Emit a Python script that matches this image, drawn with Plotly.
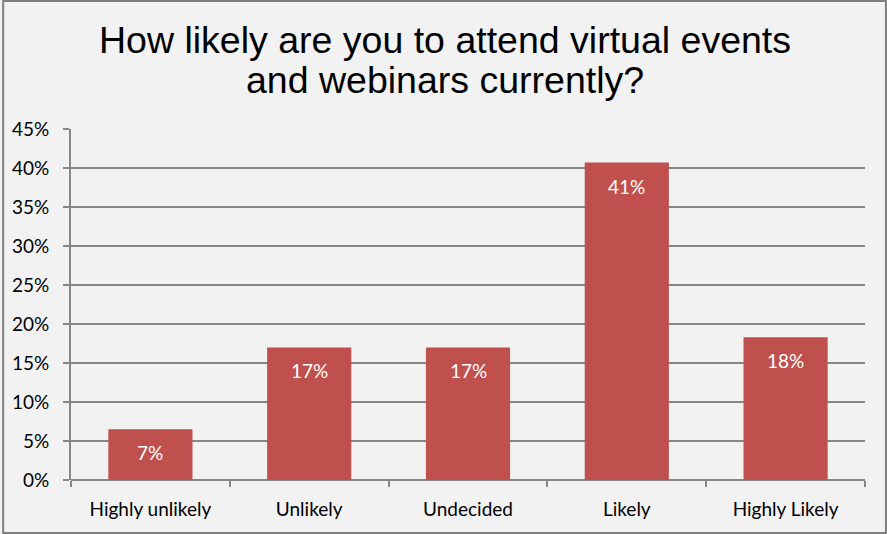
import plotly.graph_objects as go

categories = ["Highly unlikely", "Unlikely", "Undecided", "Likely", "Highly Likely"]
values = [0.065, 0.17, 0.17, 0.407, 0.183]
labels = ["7%", "17%", "17%", "41%", "18%"]
title_lines = ["How likely are you to attend virtual events", "and webinars currently?"]

W, H = 887, 534
M = dict(l=69, r=22, t=129, b=54)
pw = W - M["l"] - M["r"]
ph = H - M["t"] - M["b"]

fig = go.Figure()

fig.add_trace(
    go.Bar(
        x=categories,
        y=values,
        marker=dict(color="#C0504D", line_width=0),
        hoverinfo="skip"))

# Data labels near the top of each bar
for cat, val, lab in zip(categories, values, labels):
    fig.add_annotation(
        x=cat,
        y=val,
        text=lab,
        showarrow=False,
        yanchor="top",
        yshift=-10,
        font=dict(family="Lato, Open Sans, sans-serif", size=19, color="white"))

# Title as two lines with tighter spacing
for i, line in enumerate(title_lines):
    fig.add_annotation(
        xref="paper", yref="paper",
        x=0.5 - (M["l"] - M["r"]) / 2 / pw,
        y=1 + (M["t"] - (40 + 40 * i)) / ph,
        text=line,
        showarrow=False,
        xanchor="center",
        yanchor="middle",
        font=dict(family="Liberation Sans, Arial, sans-serif", size=37.5, color="black"))

# Outer chart border
fig.add_shape(
    type="rect",
    xref="paper", yref="paper",
    x0=-(M["l"] - 1) / pw, x1=1 + (M["r"] - 1) / pw,
    y0=-(M["b"] - 1) / ph, y1=1 + (M["t"] - 1) / ph,
    line=dict(color="#7F7F7F", width=2),
    fillcolor="rgba(0,0,0,0)")

fig.update_layout(
    width=W,
    height=H,
    paper_bgcolor="#F2F2F2",
    plot_bgcolor="#F2F2F2",
    bargap=0.47,
    showlegend=False,
    margin=M,
    font=dict(family="Lato, Open Sans, sans-serif", size=19, color="black"),
    xaxis=dict(
        showgrid=False,
        showline=False,
        ticks="outside",
        tickson="boundaries",
        ticklen=6,
        tickwidth=2,
        tickcolor="#868686",
        ticklabelstandoff=16,
        tickfont=dict(size=19)),
    yaxis=dict(
        range=[0, 0.45],
        dtick=0.05,
        tickformat=".0%",
        showgrid=True,
        gridcolor="#868686",
        gridwidth=2,
        showline=True,
        linecolor="#868686",
        linewidth=2,
        ticks="outside",
        ticklen=6,
        tickwidth=2,
        tickcolor="#868686",
        ticklabelstandoff=10,
        zeroline=True,
        zerolinecolor="#868686",
        zerolinewidth=2,
        tickfont=dict(size=19)))

fig.write_html(
    "out.html",
    config={"displayModeBar": False},
    post_script="document.body.style.margin='0';")
